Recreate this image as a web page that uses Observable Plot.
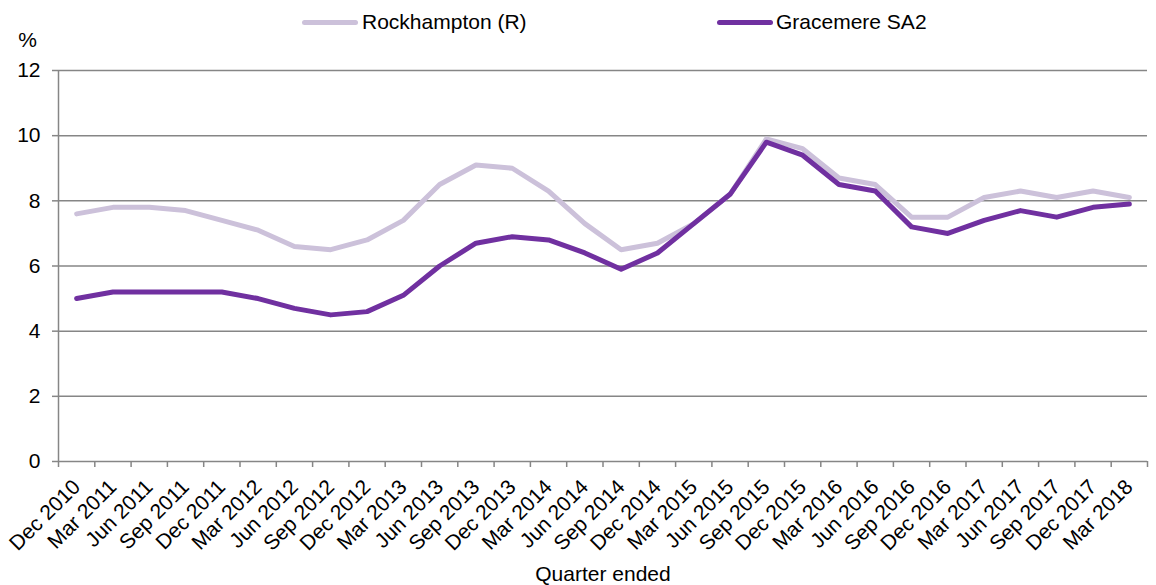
<!DOCTYPE html>
<html>
<head>
<meta charset="utf-8">
<script src="https://cdn.jsdelivr.net/npm/d3@7"></script>
<script src="https://cdn.jsdelivr.net/npm/@observablehq/plot@0.6"></script>
<style>
  body { margin: 0; background: #fff; font-family: "Liberation Sans", Arial, sans-serif; }
  #legend { position: relative; height: 30px; font-size: 21px; color: #000; }
  #legend .sw { position: absolute; width: 56px; height: 5px; border-radius: 3px; }
  #legend .lb { position: absolute; line-height: 24px; white-space: nowrap; }
  #chart svg { display: block; }
</style>
</head>
<body>
<div id="legend"></div>
<div id="chart"></div>
<script>
const quarters = ["Dec 2010","Mar 2011","Jun 2011","Sep 2011","Dec 2011","Mar 2012","Jun 2012","Sep 2012","Dec 2012","Mar 2013","Jun 2013","Sep 2013","Dec 2013","Mar 2014","Jun 2014","Sep 2014","Dec 2014","Mar 2015","Jun 2015","Sep 2015","Dec 2015","Mar 2016","Jun 2016","Sep 2016","Dec 2016","Mar 2017","Jun 2017","Sep 2017","Dec 2017","Mar 2018"];
const rockhampton = [7.6,7.8,7.8,7.7,7.4,7.1,6.6,6.5,6.8,7.4,8.5,9.1,9.0,8.3,7.3,6.5,6.7,7.3,8.2,9.9,9.6,8.7,8.5,7.5,7.5,8.1,8.3,8.1,8.3,8.1];
const gracemere = [5.0,5.2,5.2,5.2,5.2,5.0,4.7,4.5,4.6,5.1,6.0,6.7,6.9,6.8,6.4,5.9,6.4,7.3,8.2,9.8,9.4,8.5,8.3,7.2,7.0,7.4,7.7,7.5,7.8,7.9];
const seriesNames = ["Rockhampton (R)", "Gracemere SA2"];
const seriesColors = ["#CCC1DA", "#7030A0"];
const yTicks = [0, 2, 4, 6, 8, 10, 12];

// legend
const legend = document.getElementById("legend");
const legendPos = [[302, 362], [717, 776]];
seriesNames.forEach((name, k) => {
  const sw = document.createElement("span");
  sw.className = "sw";
  sw.style.left = legendPos[k][0] + "px";
  sw.style.top = "20px";
  sw.style.background = seriesColors[k];
  legend.appendChild(sw);
  const lb = document.createElement("span");
  lb.className = "lb";
  lb.style.left = legendPos[k][1] + "px";
  lb.style.top = "10px";
  lb.textContent = name;
  legend.appendChild(lb);
});

const rockData = quarters.map((q, i) => ({i, q, v: rockhampton[i]}));
const graceData = quarters.map((q, i) => ({i, q, v: gracemere[i]}));
const gray = "#868686";

const chart = Plot.plot({
  width: 1156,
  height: 555,
  marginLeft: 58,
  marginRight: 9,
  marginTop: 40,
  marginBottom: 124,
  style: {fontFamily: "'Liberation Sans', Arial, sans-serif", fontSize: "21px", color: "#000", background: "#fff", overflow: "visible"},
  x: {type: "linear", domain: [-0.5, quarters.length - 0.5]},
  y: {domain: [0, 12]},
  marks: [
    Plot.gridY(yTicks, {stroke: gray, strokeOpacity: 1, strokeWidth: 1.5}),
    Plot.ruleX([-0.5], {stroke: gray, strokeWidth: 1.5}),
    Plot.axisY(yTicks, {tickSize: 6, tickPadding: 12, stroke: gray, strokeWidth: 1.5, label: null, tickFormat: d => d, fontSize: 21}),
    Plot.axisX(d3.range(quarters.length + 1).map(i => i - 0.5), {tickSize: 6, stroke: gray, strokeWidth: 1.5, tickFormat: () => "", label: null}),
    Plot.axisX(d3.range(quarters.length), {tickSize: 0, tickPadding: 22, tickRotate: -45, tickFormat: i => quarters[i], label: "Quarter ended", labelAnchor: "center", labelOffset: 119, labelArrow: "none", fontSize: 21}),
    Plot.line(rockData, {x: "i", y: "v", stroke: seriesColors[0], strokeWidth: 5, strokeLinejoin: "round"}),
    Plot.line(graceData, {x: "i", y: "v", stroke: seriesColors[1], strokeWidth: 5, strokeLinejoin: "round"}),
    Plot.text(["%"], {frameAnchor: "top-left", dx: -31, dy: -30, textAnchor: "middle", lineAnchor: "middle", fontSize: 21, fill: "#000"})
  ]
});
document.getElementById("chart").appendChild(chart);
</script>
</body>
</html>
